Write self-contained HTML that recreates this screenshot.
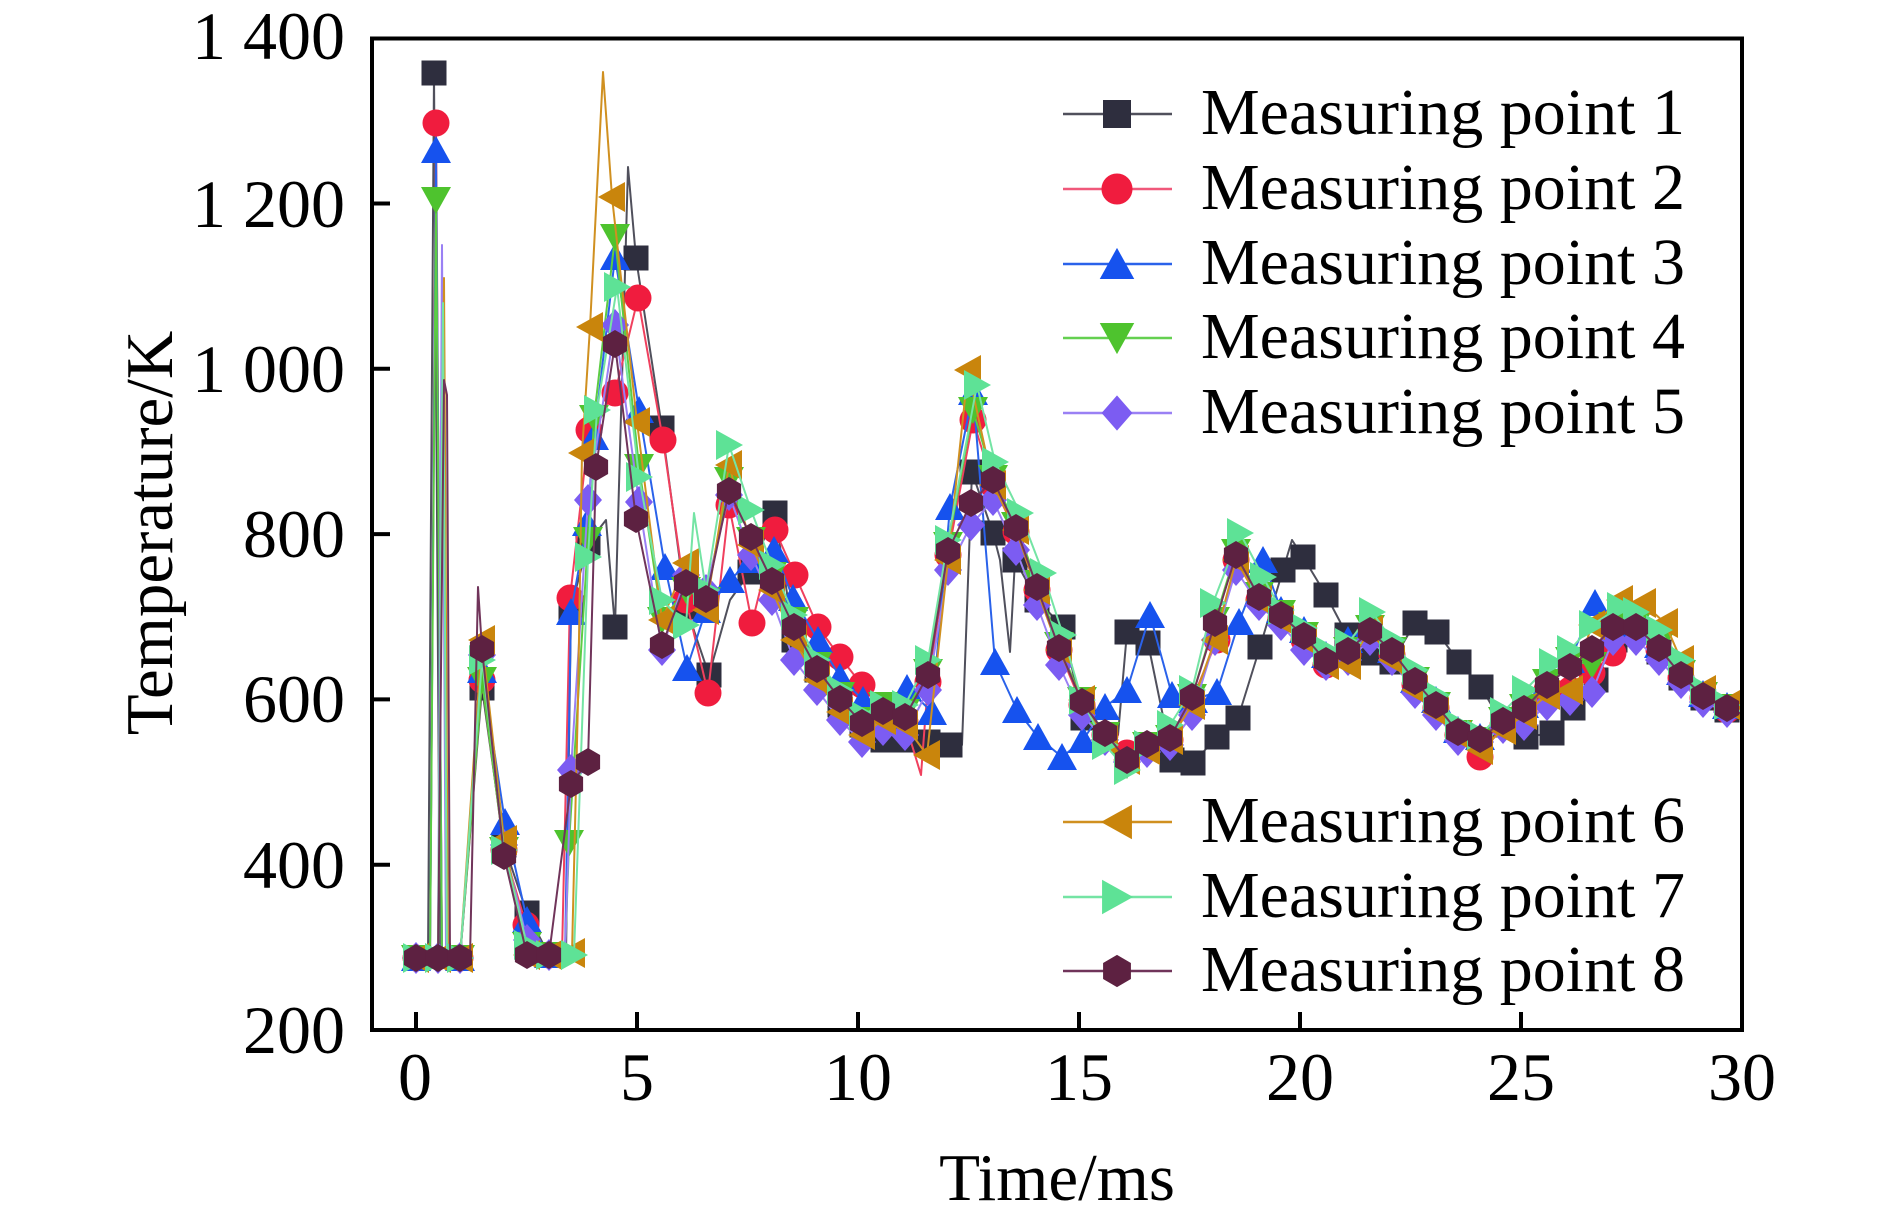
<!DOCTYPE html>
<html>
<head>
<meta charset="utf-8">
<style>
html,body{margin:0;padding:0;background:#fff;}
svg{display:block;}
text{font-family:"Liberation Serif","Times New Roman",serif;fill:#000;}
</style>
</head>
<body>
<svg width="1890" height="1220" viewBox="0 0 1890 1220" xmlns="http://www.w3.org/2000/svg">
<defs>
  <g id="s1"><rect x="-12.5" y="-12.5" width="25" height="25" fill="#2e2e3e"/></g>
  <g id="s2"><circle cx="0" cy="0" r="13.5" fill="#f01c3e"/></g>
  <g id="s3"><polygon points="0,-14 15,13 -15,13" fill="#1652ee"/></g>
  <g id="s4"><polygon points="-15,-13 15,-13 0,14" fill="#4ec32e"/></g>
  <g id="s5"><polygon points="0,-16 14,0 0,16 -14,0" fill="#7c5cf2"/></g>
  <g id="s6"><polygon points="-14,0 13,-15 13,15" fill="#c9850c"/></g>
  <g id="s7"><polygon points="-13,-15 14,0 -13,15" fill="#5ee296"/></g>
  <g id="s8"><polygon points="0,-14 12.1,-7 12.1,7 0,14 -12.1,7 -12.1,-7" fill="#5d2141"/></g>
  <marker id="m1" markerUnits="userSpaceOnUse" markerWidth="40" markerHeight="40" refX="20" refY="20" overflow="visible"><use href="#s1" x="20" y="20"/></marker>
  <marker id="m2" markerUnits="userSpaceOnUse" markerWidth="40" markerHeight="40" refX="20" refY="20" overflow="visible"><use href="#s2" x="20" y="20"/></marker>
  <marker id="m3" markerUnits="userSpaceOnUse" markerWidth="40" markerHeight="40" refX="20" refY="20" overflow="visible"><use href="#s3" x="20" y="20"/></marker>
  <marker id="m4" markerUnits="userSpaceOnUse" markerWidth="40" markerHeight="40" refX="20" refY="20" overflow="visible"><use href="#s4" x="20" y="20"/></marker>
  <marker id="m5" markerUnits="userSpaceOnUse" markerWidth="40" markerHeight="40" refX="20" refY="20" overflow="visible"><use href="#s5" x="20" y="20"/></marker>
  <marker id="m6" markerUnits="userSpaceOnUse" markerWidth="40" markerHeight="40" refX="20" refY="20" overflow="visible"><use href="#s6" x="20" y="20"/></marker>
  <marker id="m7" markerUnits="userSpaceOnUse" markerWidth="40" markerHeight="40" refX="20" refY="20" overflow="visible"><use href="#s7" x="20" y="20"/></marker>
  <marker id="m8" markerUnits="userSpaceOnUse" markerWidth="40" markerHeight="40" refX="20" refY="20" overflow="visible"><use href="#s8" x="20" y="20"/></marker>
</defs>

<g fill="none" stroke-width="2" stroke-linejoin="round">
<!-- Series 1 -->
<polyline stroke="#50505c" points="416,958 428,958 434,73 440,958 460,958 482,688 504,845 527,913 549,955 566,955 571,608 588,543 606,520 615,627 628,167 636,258 662,428 686,607 709,675 730,600 750,572 775,513 794,640 817,670 840,705 862,725 883,740 905,740 928,742 950,745 962,745 972,472 993,533 1000,560 1010,652 1015,560 1037,600 1063,627 1083,718 1105,735 1118,735 1127,632 1148,643 1172,760 1193,763 1217,737 1238,718 1260,647 1283,570 1292,540 1303,557 1326,595 1347,635 1370,653 1392,662 1415,623 1437,632 1459,662 1481,687 1503,725 1526,737 1552,733 1573,708 1596,680 1615,640 1636,632 1659,652 1681,678 1703,698 1727,710 1742,716"/>
<polyline stroke="none" marker-start="url(#m1)" marker-mid="url(#m1)" marker-end="url(#m1)" points="416,958 434,73 460,958 482,688 504,845 527,913 549,955 571,608 588,543 615,627 636,258 662,428 686,607 709,675 750,572 775,513 794,640 817,670 840,705 862,725 883,740 905,740 928,742 950,745 972,472 993,533 1015,560 1037,600 1063,627 1083,718 1105,735 1127,632 1148,643 1172,760 1193,763 1217,737 1238,718 1260,647 1283,570 1303,557 1326,595 1347,635 1370,653 1392,662 1415,623 1437,632 1459,662 1481,687 1503,725 1526,737 1552,733 1573,708 1596,680 1615,640 1636,632 1659,652 1681,678 1703,698 1727,710"/>

<!-- Series 2 -->
<polyline stroke="#f0405e" points="416,958 430,958 436,123 442,958 460,958 482,680 504,850 526,925 549,955 562,955 570,598 589,430 615,393 638,298 663,440 686,600 708,693 729,505 752,623 775,530 795,575 818,627 840,657 862,685 883,713 905,722 921,775 928,682 948,555 973,420 993,485 1016,532 1037,590 1059,650 1082,705 1105,735 1127,753 1147,747 1170,740 1192,700 1217,640 1236,560 1259,600 1281,618 1304,640 1326,665 1348,655 1370,635 1392,655 1415,685 1436,708 1458,735 1480,757 1503,725 1524,712 1547,690 1570,690 1592,673 1613,653 1636,632 1659,650 1681,678 1703,698 1727,710 1742,716"/>
<polyline stroke="none" marker-start="url(#m2)" marker-mid="url(#m2)" marker-end="url(#m2)" points="416,958 436,123 460,958 482,680 504,850 526,925 549,955 570,598 589,430 615,393 638,298 663,440 686,600 708,693 729,505 752,623 775,530 795,575 818,627 840,657 862,685 883,713 905,722 928,682 948,555 973,420 993,485 1016,532 1037,590 1059,650 1082,705 1105,735 1127,753 1147,747 1170,740 1192,700 1217,640 1236,560 1259,600 1281,618 1304,640 1326,665 1348,655 1370,635 1392,655 1415,685 1436,708 1458,735 1480,757 1503,725 1524,712 1547,690 1570,690 1592,673 1613,653 1636,632 1659,650 1681,678 1703,698 1727,710"/>

<!-- Series 3 -->
<polyline stroke="#2a62ea" points="416,958 430,958 436,150 442,958 460,958 482,670 505,822 527,920 549,955 565,955 571,612 587,523 594,437 615,257 639,410 665,567 687,668 706,610 730,580 751,560 774,550 793,598 818,640 840,677 863,700 887,723 907,688 932,712 950,507 973,392 995,662 1017,710 1038,737 1062,757 1083,740 1105,707 1127,690 1150,615 1172,695 1193,700 1217,692 1239,622 1263,560 1281,610 1304,630 1326,655 1348,640 1370,625 1392,650 1415,680 1436,700 1458,730 1480,737 1503,718 1524,705 1547,680 1570,660 1595,603 1613,622 1636,625 1659,645 1681,672 1703,694 1727,706 1742,712"/>
<polyline stroke="none" marker-start="url(#m3)" marker-mid="url(#m3)" marker-end="url(#m3)" points="416,958 436,150 460,958 482,670 505,822 527,920 549,955 571,612 587,523 594,437 615,257 639,410 665,567 687,668 706,610 730,580 751,560 774,550 793,598 818,640 840,677 863,700 887,723 907,688 932,712 950,507 973,392 995,662 1017,710 1038,737 1062,757 1083,740 1105,707 1127,690 1150,615 1172,695 1193,700 1217,692 1239,622 1263,560 1281,610 1304,630 1326,655 1348,640 1370,625 1392,650 1415,680 1436,700 1458,730 1480,737 1503,718 1524,705 1547,680 1570,660 1595,603 1613,622 1636,625 1659,645 1681,672 1703,694 1727,706"/>

<!-- Series 4 -->
<polyline stroke="#5ccc44" points="416,958 430,958 436,200 442,958 460,958 482,680 504,850 527,945 549,955 565,955 569,843 588,540 594,418 615,237 639,467 662,620 686,590 706,600 729,480 751,540 772,575 794,620 817,665 840,695 862,720 883,705 905,712 928,672 948,545 973,410 993,478 1016,525 1037,583 1059,645 1082,700 1105,735 1127,765 1147,745 1170,738 1192,697 1215,620 1236,552 1259,595 1281,613 1304,635 1326,660 1348,650 1370,628 1392,650 1415,680 1436,705 1458,733 1480,740 1503,720 1524,707 1547,682 1570,660 1592,665 1613,625 1636,625 1659,645 1681,673 1703,695 1727,707 1742,712"/>
<polyline stroke="none" marker-start="url(#m4)" marker-mid="url(#m4)" marker-end="url(#m4)" points="416,958 436,200 460,958 482,680 504,850 527,945 549,955 569,843 588,540 594,418 615,237 639,467 662,620 686,590 706,600 729,480 751,540 772,575 794,620 817,665 840,695 862,720 883,705 905,712 928,672 948,545 973,410 993,478 1016,525 1037,583 1059,645 1082,700 1105,735 1127,765 1147,745 1170,738 1192,697 1215,620 1236,552 1259,595 1281,613 1304,635 1326,660 1348,650 1370,628 1392,650 1415,680 1436,705 1458,733 1480,740 1503,720 1524,707 1547,682 1570,660 1592,665 1613,625 1636,625 1659,645 1681,673 1703,695 1727,707"/>

<!-- Series 5 -->
<polyline stroke="#9a80f4" points="416,958 438,958 442,245 446,958 460,958 482,655 504,845 527,940 549,955 565,955 571,770 588,500 615,325 639,502 662,650 686,575 706,590 729,495 751,555 772,600 794,660 817,690 840,720 862,742 883,730 905,735 928,690 948,570 971,525 993,500 1016,550 1037,605 1059,665 1082,715 1105,740 1127,762 1147,752 1170,745 1192,715 1215,640 1236,570 1259,605 1281,625 1304,650 1326,665 1348,660 1370,640 1392,660 1415,693 1436,715 1458,740 1480,742 1503,728 1524,725 1547,705 1570,700 1592,692 1613,640 1636,640 1659,660 1681,683 1703,702 1727,712 1742,718"/>
<polyline stroke="none" marker-start="url(#m5)" marker-mid="url(#m5)" marker-end="url(#m5)" points="416,958 438,958 460,958 482,655 504,845 527,940 549,955 571,770 588,500 615,325 639,502 662,650 686,575 706,590 729,495 751,555 772,600 794,660 817,690 840,720 862,742 883,730 905,735 928,690 948,570 971,525 993,500 1016,550 1037,605 1059,665 1082,715 1105,740 1127,762 1147,752 1170,745 1192,715 1215,640 1236,570 1259,605 1281,625 1304,650 1326,665 1348,660 1370,640 1392,660 1415,693 1436,715 1458,740 1480,742 1503,728 1524,725 1547,705 1570,700 1592,692 1613,640 1636,640 1659,660 1681,683 1703,702 1727,712"/>

<!-- Series 6 -->
<polyline stroke="#d09020" points="416,958 438,958 444,278 448,958 460,958 482,640 504,840 527,955 549,955 572,953 578,700 582,453 590,327 603,72 612,197 637,422 662,620 686,563 706,610 729,465 751,545 772,590 794,640 817,680 840,712 862,735 883,720 905,725 927,755 948,560 968,370 993,485 1016,530 1037,590 1059,650 1082,700 1105,740 1127,760 1147,750 1170,740 1192,705 1215,640 1236,560 1259,600 1281,620 1304,640 1326,665 1348,665 1370,630 1392,660 1415,690 1436,712 1458,735 1480,750 1503,730 1524,715 1547,695 1570,690 1592,625 1620,600 1643,603 1665,623 1681,660 1703,690 1727,705 1742,712"/>
<polyline stroke="none" marker-start="url(#m6)" marker-mid="url(#m6)" marker-end="url(#m6)" points="416,958 438,958 460,958 482,640 504,840 527,955 549,955 572,953 582,453 590,327 612,197 637,422 662,620 686,563 706,610 729,465 751,545 772,590 794,640 817,680 840,712 862,735 883,720 905,725 927,755 948,560 968,370 993,485 1016,530 1037,590 1059,650 1082,700 1105,740 1127,760 1147,750 1170,740 1192,705 1215,640 1236,560 1259,600 1281,620 1304,640 1326,665 1348,665 1370,630 1392,660 1415,690 1436,712 1458,735 1480,750 1503,730 1524,715 1547,695 1570,690 1592,625 1620,600 1643,603 1665,623 1681,660 1703,690 1727,705"/>

<!-- Series 7 -->
<polyline stroke="#74e4a4" points="416,958 438,958 443,303 447,958 460,958 482,660 504,850 527,945 549,955 574,955 588,557 597,410 617,287 639,477 662,600 686,625 694,513 706,590 729,445 751,510 772,565 794,615 817,660 840,690 862,715 883,705 905,705 928,660 948,540 977,385 995,462 1020,513 1043,573 1063,635 1082,700 1105,745 1127,770 1147,745 1170,725 1192,690 1213,603 1240,533 1263,577 1281,610 1304,628 1326,650 1348,643 1372,612 1392,640 1415,670 1436,695 1458,725 1480,735 1503,712 1525,690 1552,663 1570,650 1592,625 1620,607 1636,612 1659,630 1681,660 1703,690 1727,705 1742,712"/>
<polyline stroke="none" marker-start="url(#m7)" marker-mid="url(#m7)" marker-end="url(#m7)" points="416,958 438,958 460,958 482,660 504,850 527,945 549,955 574,955 588,557 597,410 617,287 639,477 662,600 686,625 706,590 729,445 751,510 772,565 794,615 817,660 840,690 862,715 883,705 905,705 928,660 948,540 977,385 995,462 1020,513 1043,573 1063,635 1082,700 1105,745 1127,770 1147,745 1170,725 1192,690 1213,603 1240,533 1263,577 1281,610 1304,628 1326,650 1348,643 1372,612 1392,640 1415,670 1436,695 1458,725 1480,735 1503,712 1525,690 1552,663 1570,650 1592,625 1620,607 1636,612 1659,630 1681,660 1703,690 1727,705"/>

<!-- Series 8 -->
<polyline stroke="#70345a" points="416,958 438,958 444,380 447,395 450,958 460,958 470,958 478,587 482,649 504,856 527,955 549,955 571,784 588,762 596,467 615,344 636,519 662,645 686,583 706,599 729,491 751,537 772,581 794,627 817,669 840,699 862,723 883,711 905,717 928,675 948,551 971,503 993,480 1016,528 1037,587 1059,648 1082,702 1105,733 1127,760 1147,744 1170,738 1192,697 1215,623 1236,555 1259,597 1281,615 1304,636 1326,661 1348,651 1370,631 1392,651 1415,681 1436,705 1458,732 1480,739 1503,721 1524,709 1547,685 1570,667 1592,649 1613,627 1636,627 1659,648 1681,675 1703,696 1727,708 1742,714"/>
<polyline stroke="none" marker-start="url(#m8)" marker-mid="url(#m8)" marker-end="url(#m8)" points="416,958 438,958 460,958 482,649 504,856 527,955 549,955 571,784 588,762 596,467 615,344 636,519 662,645 686,583 706,599 729,491 751,537 772,581 794,627 817,669 840,699 862,723 883,711 905,717 928,675 948,551 971,503 993,480 1016,528 1037,587 1059,648 1082,702 1105,733 1127,760 1147,744 1170,738 1192,697 1215,623 1236,555 1259,597 1281,615 1304,636 1326,661 1348,651 1370,631 1392,651 1415,681 1436,705 1458,732 1480,739 1503,721 1524,709 1547,685 1570,667 1592,649 1613,627 1636,627 1659,648 1681,675 1703,696 1727,708"/>
</g>

<!-- Frame -->
<rect x="372" y="38.5" width="1370" height="991.5" fill="none" stroke="#000" stroke-width="4"/>
<!-- Ticks -->
<g stroke="#000" stroke-width="4">
  <line x1="372" y1="864.7" x2="390" y2="864.7"/>
  <line x1="372" y1="699.4" x2="390" y2="699.4"/>
  <line x1="372" y1="534.1" x2="390" y2="534.1"/>
  <line x1="372" y1="368.8" x2="390" y2="368.8"/>
  <line x1="372" y1="203.5" x2="390" y2="203.5"/>
  <line x1="416" y1="1030" x2="416" y2="1012"/>
  <line x1="637" y1="1030" x2="637" y2="1012"/>
  <line x1="858" y1="1030" x2="858" y2="1012"/>
  <line x1="1079" y1="1030" x2="1079" y2="1012"/>
  <line x1="1300" y1="1030" x2="1300" y2="1012"/>
  <line x1="1521" y1="1030" x2="1521" y2="1012"/>
</g>

<!-- Y tick labels -->
<g font-size="68" text-anchor="end">
  <text x="345" y="1053">200</text>
  <text x="345" y="888">400</text>
  <text x="345" y="722">600</text>
  <text x="345" y="557">800</text>
  <text x="345" y="392">1 000</text>
  <text x="345" y="227">1 200</text>
  <text x="345" y="59">1 400</text>
</g>
<!-- X tick labels -->
<g font-size="68" text-anchor="middle">
  <text x="415" y="1100">0</text>
  <text x="637" y="1100">5</text>
  <text x="858" y="1100">10</text>
  <text x="1079" y="1100">15</text>
  <text x="1300" y="1100">20</text>
  <text x="1521" y="1100">25</text>
  <text x="1742" y="1100">30</text>
</g>

<!-- Axis titles -->
<text x="1057" y="1200" font-size="67" text-anchor="middle">Time/ms</text>
<text x="172" y="533" font-size="67" text-anchor="middle" transform="rotate(-90 172 533)">Temperature/K</text>

<!-- Legend -->
<g stroke-width="2.5">
  <line x1="1063" y1="114" x2="1172" y2="114" stroke="#50505c"/>
  <line x1="1063" y1="189" x2="1172" y2="189" stroke="#f0587a"/>
  <line x1="1063" y1="264" x2="1172" y2="264" stroke="#2a62ea"/>
  <line x1="1063" y1="338" x2="1172" y2="338" stroke="#64d050"/>
  <line x1="1063" y1="413" x2="1172" y2="413" stroke="#9a80f4"/>
  <line x1="1063" y1="822" x2="1172" y2="822" stroke="#d09020"/>
  <line x1="1063" y1="897" x2="1172" y2="897" stroke="#74e4a4"/>
  <line x1="1063" y1="971" x2="1172" y2="971" stroke="#70345a"/>
</g>
<use href="#s1" transform="translate(1117,114) scale(1.12)"/>
<use href="#s2" transform="translate(1117,189) scale(1.15)"/>
<use href="#s3" transform="translate(1117,264) scale(1.15)"/>
<use href="#s4" transform="translate(1117,338) scale(1.15)"/>
<use href="#s5" transform="translate(1117,413) scale(1.1)"/>
<use href="#s6" transform="translate(1117,822) scale(1.15)"/>
<use href="#s7" transform="translate(1117,897) scale(1.15)"/>
<use href="#s8" transform="translate(1117,971) scale(1.15)"/>
<g font-size="66">
  <text x="1201" y="134">Measuring point 1</text>
  <text x="1201" y="209">Measuring point 2</text>
  <text x="1201" y="284">Measuring point 3</text>
  <text x="1201" y="358">Measuring point 4</text>
  <text x="1201" y="433">Measuring point 5</text>
  <text x="1201" y="842">Measuring point 6</text>
  <text x="1201" y="917">Measuring point 7</text>
  <text x="1201" y="991">Measuring point 8</text>
</g>
</svg>
</body>
</html>
